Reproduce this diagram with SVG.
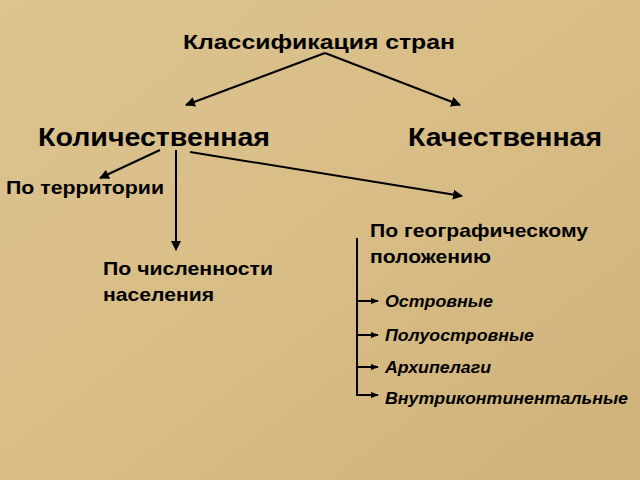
<svg xmlns="http://www.w3.org/2000/svg" width="640" height="480" viewBox="0 0 640 480">
<defs>
<linearGradient id="bg" x1="0" y1="0" x2="1" y2="1"><stop offset="0" stop-color="#dcc38f"/><stop offset="0.5" stop-color="#d8bd86"/><stop offset="1" stop-color="#cfb27a"/></linearGradient>
<marker id="a" viewBox="0 0 10 10" refX="9" refY="5" markerWidth="5" markerHeight="5" orient="auto"><path d="M0,0 L10,5 L0,10 z" fill="#000"/></marker>
<marker id="s" viewBox="0 0 10 10" refX="9" refY="5" markerWidth="4" markerHeight="4" orient="auto"><path d="M0,1 L10,5 L0,9 z" fill="#000"/></marker>
</defs>
<style>
text{font-family:"Liberation Sans",Arial,sans-serif;fill:#000}
.t{font-size:21px;font-weight:bold}
.h{font-size:25px;font-weight:bold}
.n{font-size:19px;font-weight:bold}
.i{font-size:16px;font-weight:bold;font-style:italic}
.c line,.c path{stroke:#000;stroke-width:2;fill:none}
</style>
<rect width="640" height="480" fill="url(#bg)"/>
<g class="c" id="connectors">
<line x1="325" y1="53" x2="186" y2="105" marker-end="url(#a)"/>
<line x1="325" y1="53" x2="460" y2="105" marker-end="url(#a)"/>
<line x1="160" y1="150" x2="100" y2="178" marker-end="url(#a)"/>
<line x1="176" y1="150" x2="176" y2="250" marker-end="url(#a)"/>
<line x1="190" y1="152" x2="462" y2="196" marker-end="url(#a)"/>
<path d="M357,238 V396"/>
<line x1="356" y1="301" x2="378" y2="301" marker-end="url(#s)"/>
<line x1="356" y1="335" x2="378" y2="335" marker-end="url(#s)"/>
<line x1="356" y1="367" x2="378" y2="367" marker-end="url(#s)"/>
<line x1="356" y1="395" x2="378" y2="395" marker-end="url(#s)"/>
</g>
<g id="root"><text class="t" x="183" y="49" textLength="272" lengthAdjust="spacingAndGlyphs">Классификация стран</text></g>
<g id="quant"><text class="h" x="38" y="146" textLength="232" lengthAdjust="spacingAndGlyphs">Количественная</text></g>
<g id="qual"><text class="h" x="408" y="146" textLength="194" lengthAdjust="spacingAndGlyphs">Качественная</text></g>
<g id="terr"><text class="n" x="6" y="194" textLength="158" lengthAdjust="spacingAndGlyphs">По территории</text></g>
<g id="pop"><text class="n" x="103" y="275" textLength="170" lengthAdjust="spacingAndGlyphs">По численности</text><text class="n" x="103" y="301" textLength="111" lengthAdjust="spacingAndGlyphs">населения</text></g>
<g id="geo"><text class="n" x="370" y="237" textLength="218" lengthAdjust="spacingAndGlyphs">По географическому</text><text class="n" x="370" y="263" textLength="121" lengthAdjust="spacingAndGlyphs">положению</text></g>
<g id="i1"><text class="i" x="385" y="307" textLength="108" lengthAdjust="spacingAndGlyphs">Островные</text></g>
<g id="i2"><text class="i" x="385" y="341" textLength="149" lengthAdjust="spacingAndGlyphs">Полуостровные</text></g>
<g id="i3"><text class="i" x="385" y="373" textLength="106" lengthAdjust="spacingAndGlyphs">Архипелаги</text></g>
<g id="i4"><text class="i" x="385" y="404" textLength="243" lengthAdjust="spacingAndGlyphs">Внутриконтинентальные</text></g>
</svg>
